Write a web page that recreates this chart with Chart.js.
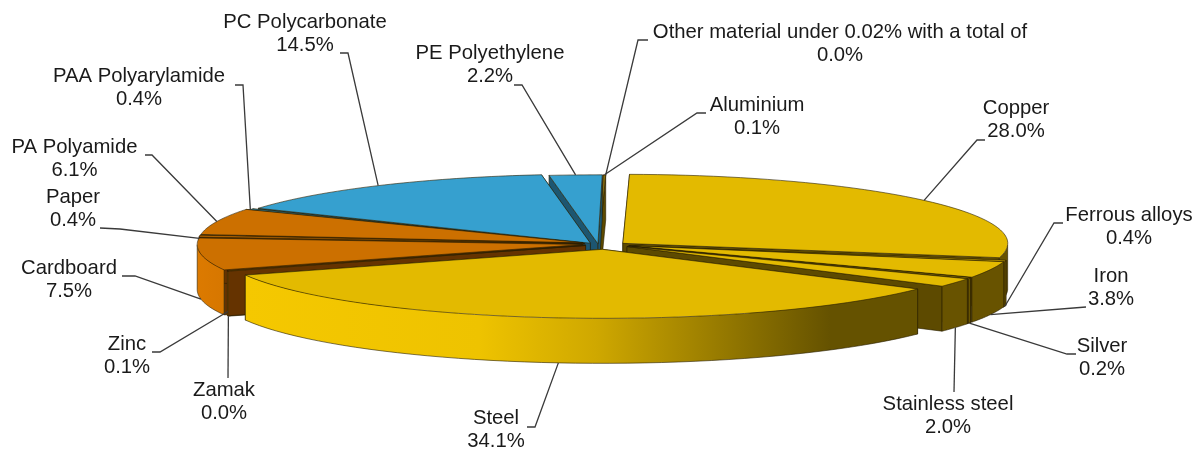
<!DOCTYPE html>
<html><head><meta charset="utf-8">
<style>html,body{margin:0;padding:0;background:#fff}#w{width:1200px;height:450px}</style>
<script src="https://cdn.jsdelivr.net/npm/chart.js@4"></script></head>
<body><div id="w"><canvas id="c" width="1200" height="450"></canvas></div>
<script>
const categories=["Copper","Ferrous alloys","Iron","Silver","Stainless steel","Steel","Zamak","Zinc","Cardboard","Paper","PA Polyamide","PAA Polyarylamide","PC Polycarbonate","PE Polyethylene","Aluminium","Other material under 0.02% with a total of"];
const shares=[28.0,0.4,3.8,0.2,2.0,34.1,0.0,0.1,7.5,0.4,6.1,0.4,14.5,2.2,0.1,0.0];
const explode=[24,26,27,27,27,30,22,22,22,22,22,14,12,1,1,1];
const nudgeX=[0,0,0,0,0,2,2,2,0,0,0,-7,-7,-6,-5,-5];
const nudgeY=[2,1,0,0,0,0,0,0,0,0,0,1,1,0,0,0];
const topColors=["#e3ba00","#e3ba00","#e3ba00","#e3ba00","#e3ba00","#e3ba00","#cc7000","#cc7000","#cc7000","#cc7000","#cc7000","#36a0cf","#36a0cf","#36a0cf","#8a6f10","#8a6f10"];
const wallKinds=["dark","dark","dark","dark","dark","steel","orange","orange","orange","orange","orange","blue","blue","blue","dark","dark"];
const labelX=[1016,1129,1111,1102,948,496,224,127,69,73,74.5,139,305,490,757,840];
const labelY=[108,215,276,346,404,418,390,344,268,197,147,76,22,53,105,32];
const kinks=[[[977,140],[985,140]],[[1054,223],[1063,223]],[[1086,307]],[[1067,354],[1076,354]],[[954,392]],[[535,427],[527,427]],[[228,378]],[[160,352],[152,352]],[[135,276],[122,276]],[[120,229],[100,228]],[[152,155],[145,155]],[[243,85],[235,85]],[[348,53],[340,53]],[[522,85],[514,85]],[[697,113],[706,113]],[[638,40],[648,40]]];
const rimDrop=[0,1,1,1,1,1,1,0.9,1,0.05,0,0,0,0,0,0];

const CX=604,CY=244,RX=385,RY=69,DEPTH=45;
function wallFill(ctx,kind){
  if(kind==="steel"){const g=ctx.createLinearGradient(245,0,830,0);
    g.addColorStop(0,"#f5c800");g.addColorStop(.4,"#eec300");g.addColorStop(.6,"#cfa800");g.addColorStop(.8,"#9a7d00");g.addColorStop(1,"#655200");return g;}
  if(kind==="orange"){const g=ctx.createLinearGradient(197,0,300,0);
    g.addColorStop(0,"#dc7a00");g.addColorStop(1,"#c86e00");return g;}
  if(kind==="blue")return "#1d5670";
  return "#685300";
}
function radialColor(kind){return kind==="orange"?"#653300":kind==="blue"?"#1d5670":kind==="steel"?"#665200":"#5d4a00";}
const pie3d={id:"pie3d",
  beforeDatasetsDraw(chart){
    const ctx=chart.ctx,meta=chart.getDatasetMeta(0),els=meta.data;
    const geo=els.map((el,i)=>{
      const p=el.getProps(["x","y","startAngle","endAngle","outerRadius"],true);
      const mid=(p.startAngle+p.endAngle)/2;
      const dx=Math.cos(mid)*explode[i],dy=Math.sin(mid)*explode[i]*RY/RX;
      return {el,i,p,mid,cx:CX+dx+nudgeX[i],cy:CY+dy+nudgeY[i]};
    });
    const back=g=>{let a=g.mid+Math.PI/2;a=((a%(2*Math.PI))+2*Math.PI)%(2*Math.PI);return Math.min(a,2*Math.PI-a);};
    const order=[...geo].sort((a,b)=>back(a)-back(b));
    const line="rgba(40,30,0,.75)";
    for(const g of order){
      const {p,cx,cy,i,el}=g;
      const a0=p.startAngle,a1=p.endAngle;
      if(a1-a0<=0)continue;
      const pt=a=>[cx+Math.cos(a)*RX,cy+Math.sin(a)*RY];
      ctx.save();
      ctx.lineWidth=0.8;ctx.strokeStyle=line;
      for(const a of [a0,a1]){
        const q=pt(a);
        ctx.beginPath();ctx.moveTo(cx,cy);ctx.lineTo(q[0],q[1]);ctx.lineTo(q[0],q[1]+DEPTH);ctx.lineTo(cx,cy+DEPTH);ctx.closePath();
        ctx.fillStyle=radialColor(wallKinds[i]);ctx.fill();ctx.stroke();
      }
      const n=48;
      const rim=[];
      for(let k=0;k<=n;k++){const a=a0+(a1-a0)*k/n;if(Math.sin(a)>=-0.001)rim.push(pt(a));}
      if(rim.length>1){
        ctx.beginPath();rim.forEach((q,k)=>k?ctx.lineTo(q[0],q[1]):ctx.moveTo(q[0],q[1]));
        for(let k=rim.length-1;k>=0;k--)ctx.lineTo(rim[k][0],rim[k][1]+DEPTH);
        ctx.closePath();ctx.fillStyle=wallFill(ctx,wallKinds[i]);ctx.fill();
        ctx.beginPath();rim.forEach((q,k)=>k?ctx.lineTo(q[0],q[1]+DEPTH):ctx.moveTo(q[0],q[1]+DEPTH));ctx.stroke();
        for(const q of [rim[0],rim[rim.length-1]]){ctx.beginPath();ctx.moveTo(q[0],q[1]);ctx.lineTo(q[0],q[1]+DEPTH);ctx.stroke();}
      }
      ctx.restore();
      ctx.save();
      ctx.translate(cx,cy);ctx.scale(RX/p.outerRadius,RY/p.outerRadius);ctx.translate(-p.x,-p.y);
      el.draw(ctx);
      ctx.restore();
      ctx.save();
      ctx.lineWidth=0.8;ctx.strokeStyle=line;ctx.beginPath();ctx.moveTo(cx,cy);
      for(let k=0;k<=n;k++){const q=pt(a0+(a1-a0)*k/n);ctx.lineTo(q[0],q[1]);}
      ctx.closePath();ctx.stroke();ctx.restore();
    }
    chart.$geo=geo;
    return false;
  },
  afterDraw(chart){
    const ctx=chart.ctx,geo=chart.$geo;
    ctx.save();
    ctx.strokeStyle="#3a3a3a";ctx.lineWidth=1.3;
    geo.forEach(g=>{const i=g.i,a=g.mid;
      const sx=g.cx+Math.cos(a)*RX,sy=g.cy+Math.sin(a)*RY+rimDrop[i]*DEPTH;
      ctx.beginPath();ctx.moveTo(sx,sy);kinks[i].forEach(k=>ctx.lineTo(k[0],k[1]));ctx.stroke();
    });
    ctx.fillStyle="#1a1a1a";ctx.font='20.3px "Liberation Sans"';ctx.textAlign="center";ctx.textBaseline="middle";
    categories.forEach((t,i)=>{
      ctx.fillText(t,labelX[i],labelY[i]);
      ctx.fillText(shares[i].toFixed(1)+"%",labelX[i],labelY[i]+23.5);
    });
    ctx.restore();
  }
};
new Chart(document.getElementById("c"),{type:"pie",plugins:[pie3d],
  data:{labels:categories,datasets:[{data:shares,backgroundColor:topColors,borderWidth:0}]},
  options:{responsive:false,animation:false,rotation:1,layout:{padding:0},
    plugins:{legend:{display:false},tooltip:{enabled:false}}}});
</script></body></html>
